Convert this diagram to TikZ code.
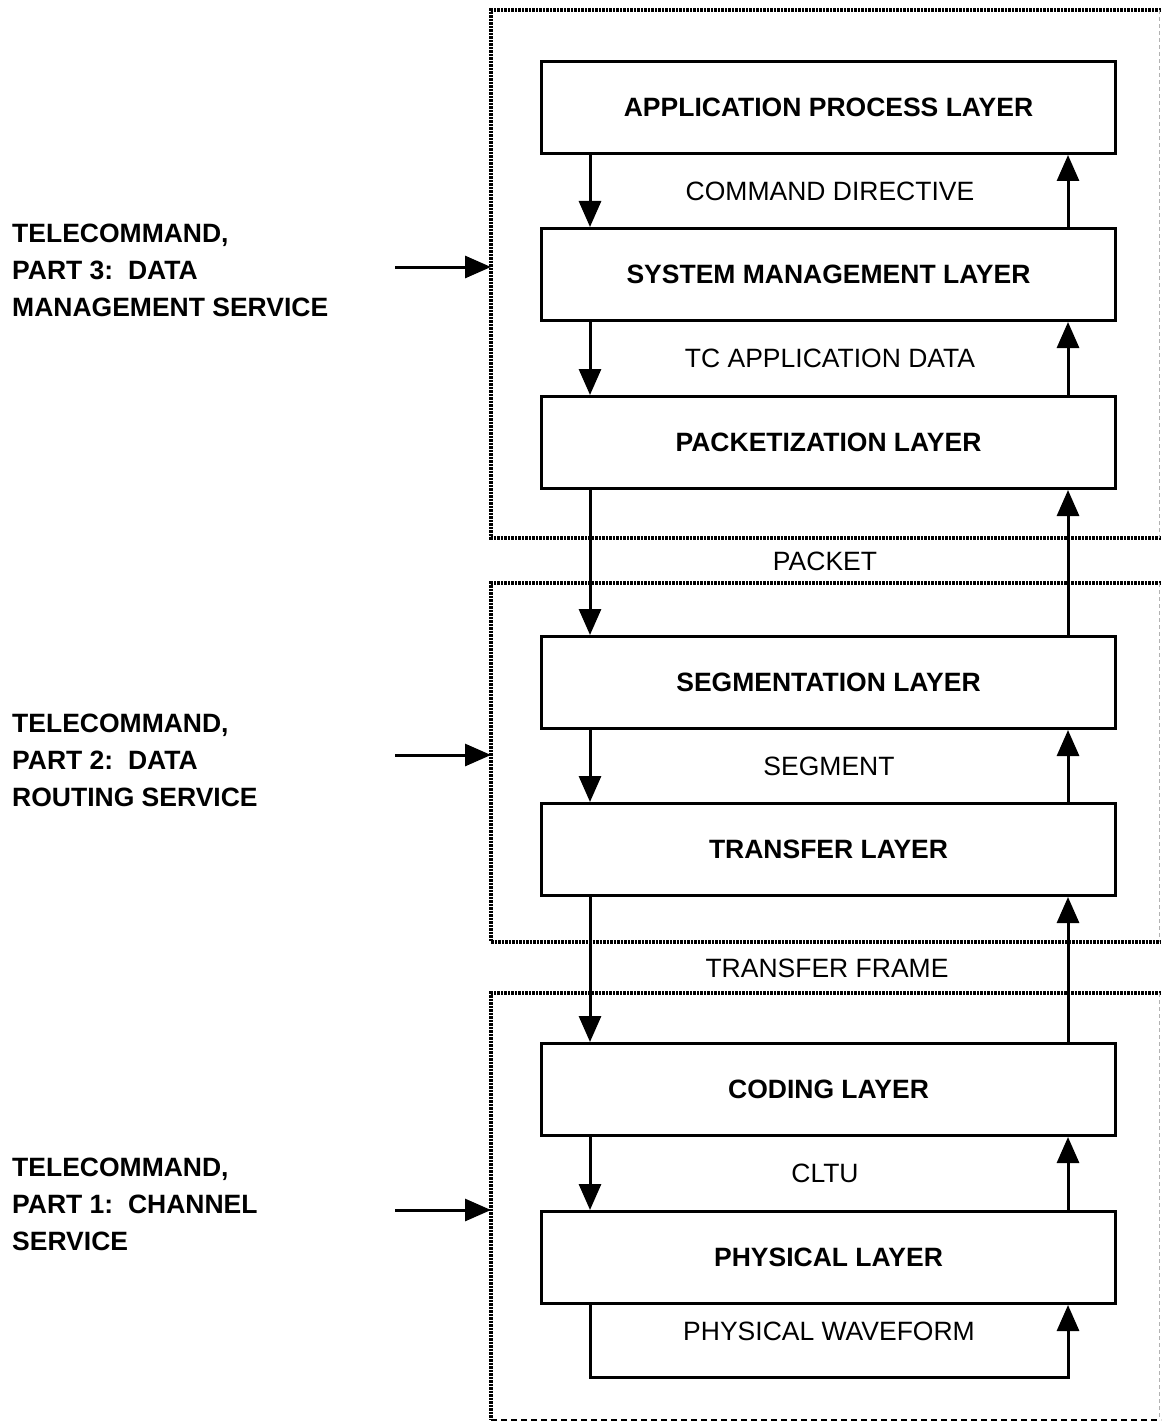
\documentclass[tikz,border=0pt]{standalone}
\usepackage{fontspec}
\setmainfont{Liberation Sans}
\usetikzlibrary{arrows.meta}

\tikzset{
  layer/.style={draw,line width=3pt,minimum width=574pt,minimum height=92pt,
    inner sep=0pt,font=\bfseries\fontsize{26.5}{31}\selectfont},
  flow/.style={line width=3pt,-{Triangle[length=26pt,width=22pt]}},
  datalabel/.style={inner sep=0pt,font=\fontsize{26.5}{31}\selectfont},
  svclabel/.style={inner sep=0pt,anchor=west,align=left,
    font=\bfseries\fontsize{26.5}{37}\selectfont},
  frame/.style={line width=3.5pt,dash pattern=on 2.5pt off 1pt},
  frameedge/.style={line width=1pt,black!30,dash pattern=on 4pt off 3pt},
  framebase/.style={line width=1.5pt,dash pattern=on 6pt off 4pt}
}

\begin{document}
\begin{tikzpicture}[x=1pt,y=-1pt]
  \useasboundingbox (0,0) rectangle (1161,1423);

  % service frames
  \draw[frame] (1161,10) -- (491,10) -- (491,538) -- (1161,538);
  \draw[frameedge] (1159,10) -- (1159,538);
  \draw[frame] (1161,583) -- (491,583) -- (491,942) -- (1161,942);
  \draw[frameedge] (1159,583) -- (1159,942);
  \draw[frame] (1161,993) -- (491,993) -- (491,1420);
  \draw[framebase] (491,1420) -- (1161,1420);
  \draw[frameedge] (1159,993) -- (1159,1420);

  % layers
  \node[layer] (app) at (828.5,107.5) {APPLICATION PROCESS LAYER};
  \node[layer] (sys) at (828.5,274.5) {SYSTEM MANAGEMENT LAYER};
  \node[layer] (pkt) at (828.5,442.5) {PACKETIZATION LAYER};
  \node[layer] (seg) at (828.5,682.5) {SEGMENTATION LAYER};
  \node[layer] (tra) at (828.5,849.5) {TRANSFER LAYER};
  \node[layer] (cod) at (828.5,1089.5) {CODING LAYER};
  \node[layer] (phy) at (828.5,1257.5) {PHYSICAL LAYER};

  \coordinate (dn) at (590,0);
  \coordinate (up) at (1068,0);

  % data passed between layers
  \node[datalabel] (cmd) at (830,191) {COMMAND DIRECTIVE};
  \node[datalabel] (tcd) at (830,358) {TC APPLICATION DATA};
  \node[datalabel] (pak) at (825,561) {PACKET};
  \node[datalabel] (sgm) at (829,766) {SEGMENT};
  \node[datalabel] (frm) at (827,968) {TRANSFER FRAME};
  \node[datalabel] (clt) at (825,1173) {CLTU};
  \node[datalabel] (wav) at (829,1331) {PHYSICAL WAVEFORM};

  % downward flow
  \draw[flow] (app.south -| dn) -- (sys.north -| dn);
  \draw[flow] (sys.south -| dn) -- (pkt.north -| dn);
  \draw[flow] (pkt.south -| dn) -- (seg.north -| dn);
  \draw[flow] (seg.south -| dn) -- (tra.north -| dn);
  \draw[flow] (tra.south -| dn) -- (cod.north -| dn);
  \draw[flow] (cod.south -| dn) -- (phy.north -| dn);

  % upward flow
  \draw[flow] (sys.north -| up) -- (app.south -| up);
  \draw[flow] (pkt.north -| up) -- (sys.south -| up);
  \draw[flow] (seg.north -| up) -- (pkt.south -| up);
  \draw[flow] (tra.north -| up) -- (seg.south -| up);
  \draw[flow] (cod.north -| up) -- (tra.south -| up);
  \draw[flow] (phy.north -| up) -- (cod.south -| up);

  % physical loop
  \coordinate (loop) at (1068,1377);
  \draw[flow] (phy.south -| dn) |- (loop) -- (phy.south -| up);

  % services
  \node[svclabel] (tc3) at (12,270) {TELECOMMAND,\\PART 3:\ \ DATA\\MANAGEMENT SERVICE};
  \node[svclabel] (tc2) at (12,760) {TELECOMMAND,\\PART 2:\ \ DATA\\ROUTING SERVICE};
  \node[svclabel] (tc1) at (12,1204) {TELECOMMAND,\\PART 1:\ \ CHANNEL\\SERVICE};

  \coordinate (src3) at (395,267);
  \coordinate (dst3) at (491,267);
  \coordinate (src2) at (395,755);
  \coordinate (dst2) at (491,755);
  \coordinate (src1) at (395,1210);
  \coordinate (dst1) at (491,1210);
  \draw[flow] (src3) -- (dst3);
  \draw[flow] (src2) -- (dst2);
  \draw[flow] (src1) -- (dst1);
\end{tikzpicture}
\end{document}
